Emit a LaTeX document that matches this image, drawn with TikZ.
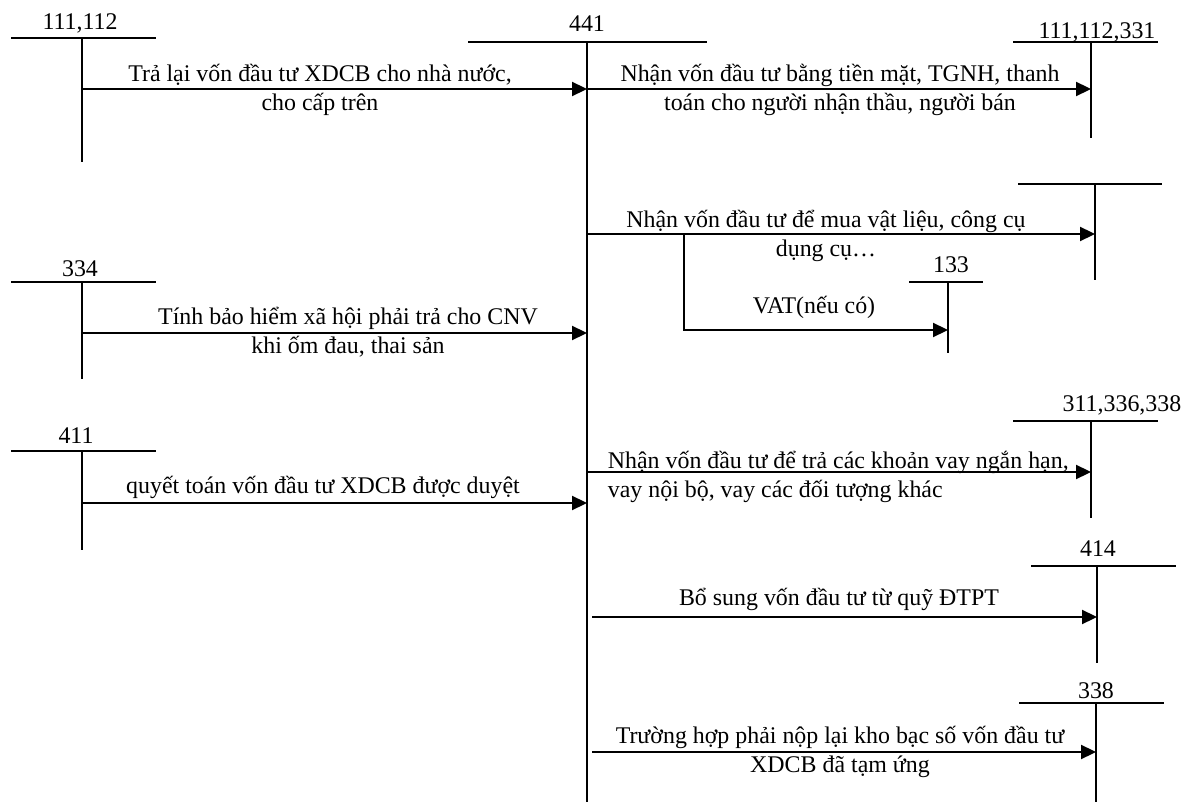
\documentclass[tikz,border=0pt]{standalone}
\usepackage{fontspec}
\setmainfont{Liberation Serif}
\usetikzlibrary{arrows.meta}

\begin{document}
\begin{tikzpicture}[x=0.02cm,y=-0.02cm,line width=1pt,
	font=\fontsize{13.6}{16.5}\selectfont,
	arr/.style={-{Triangle[length=8.5pt,width=8pt]}},
	txt/.style={align=center,inner sep=0pt},
	num/.style={anchor=base,inner sep=0pt}]
	\useasboundingbox (0,0) rectangle (1184,804);
	
	% T accounts: name/x/top/left/right/bottom/label x/label base/label
	\foreach \n/\x/\y/\l/\r/\b/\lx/\ly/\t in {
		a111/82/38/11/156/162/80/30/{111,112},
		a441/587/42/468/707/802/587/32/441,
		a331/1091/42/1013/1158/138/1097/39/{111,112,331},
		a152/1095/184/1018/1162/280/1095/180/{},
		a133/948/282/909/983/353/951/273/133,
		a334/82/282/11/156/379/80/277/334,
		a311/1091/421/1013/1158/518/1122/412/{311,336,338},
		a411/82/451/11/156/550/76/443/411,
		a414/1097/566/1031/1176/663/1098/556/414,
		a338/1096/703/1019/1164/802/1096/698/338}{
		\draw (\l,\y) -- (\r,\y);
		\draw (\x,\y) coordinate (\n) -- (\x,\b) coordinate (\n end);
		\node [num] at (\lx,\ly) (\n label) {\t};
	}
	
	% rows of the arrows
	\foreach [count=\i] \y in {89,89,234,330,333,503,472,617,752}{
		\coordinate (r\i) at (0,\y);
	}
	\coordinate (vat) at (684,234);
	
	\draw [arr] (a111 |- r1) to (a441 |- r1);
	\draw [arr] (a441 |- r2) to (a331 |- r2);
	\draw [arr] (a441 |- r3) to (a152 |- r3);
	\draw [arr] (vat) |- (a133 |- r4);
	\draw [arr] (a334 |- r5) to (a441 |- r5);
	\draw [arr] (a411 |- r6) to (a441 |- r6);
	\draw [arr] (a441 |- r7) to (a311 |- r7);
	\draw [arr,shorten <=3pt] (a441 |- r8) to (a414 |- r8);
	\draw [arr,shorten <=3pt] (a441 |- r9) to (a338 |- r9);
	
	\node [txt] at (320,90) (t1) {Trả lại vốn đầu tư XDCB cho nhà nước,\\cho cấp trên};
	\node [txt] at (840,90) (t2) {Nhận vốn đầu tư bằng tiền mặt, TGNH, thanh\\toán cho người nhận thầu, người bán};
	\node [txt] at (826,236) (t3) {Nhận vốn đầu tư để mua vật liệu, công cụ\\dụng cụ…};
	\node [txt] at (814,307) (t4) {VAT(nếu có)};
	\node [txt] at (348,332) (t5) {Tính bảo hiểm xã hội phải trả cho CNV\\khi ốm đau, thai sản};
	\node [txt] at (323,487) (t6) {quyết toán vốn đầu tư XDCB được duyệt};
	\node [txt,align=left,anchor=west] at (607,477) (t7) {Nhận vốn đầu tư để trả các khoản vay ngắn hạn,\\vay nội bộ, vay các đối tượng khác};
	\node [txt] at (839,599) (t8) {Bổ sung vốn đầu tư từ quỹ ĐTPT};
	\node [txt] at (840,752) (t9) {Trường hợp phải nộp lại kho bạc số vốn đầu tư\\XDCB đã tạm ứng};
	
\end{tikzpicture}
\end{document}
